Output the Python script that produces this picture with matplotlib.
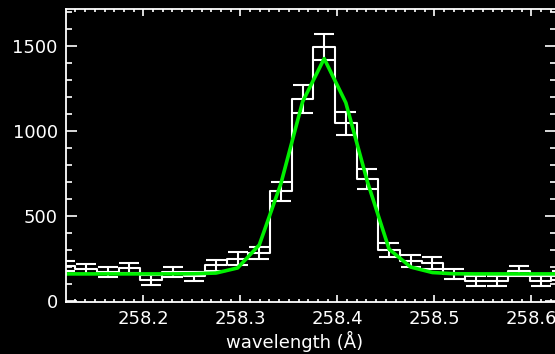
import matplotlib.pyplot as plt
from matplotlib.ticker import MultipleLocator

# bin centres (Angstrom), observed counts, errors and fitted profile
wavelength = [258.1188, 258.1411, 258.1634, 258.1857, 258.2080, 258.2303,
              258.2526, 258.2749, 258.2972, 258.3195, 258.3418, 258.3641,
              258.3864, 258.4087, 258.4310, 258.4533, 258.4756, 258.4979,
              258.5202, 258.5425, 258.5648, 258.5871, 258.6094, 258.6317]
counts = [205, 190, 170, 195, 125, 172, 145, 210, 250, 280, 645, 1185,
          1493, 1045, 717, 300, 235, 225, 160, 118, 120, 175, 120, 150]
errors = [28, 28, 28, 30, 30, 30, 27, 32, 36, 35, 57, 83,
          76, 68, 58, 39, 36, 34, 28, 30, 30, 30, 30, 28]
fit = [160, 160, 160, 160, 160, 160, 161, 165, 195, 330, 690, 1170,
       1424, 1165, 700, 305, 200, 168, 161, 160, 160, 160, 160, 160]

plt.rcParams['font.family'] = 'DejaVu Sans'

fig = plt.figure(figsize=(5.55, 3.54), dpi=100, facecolor='black')
ax = fig.add_axes([66 / 555, 52 / 354, 489.5 / 555, 293.5 / 354])
ax.set_facecolor('black')

ax.step(wavelength, counts, where='mid', color='white', lw=1.5)
ax.errorbar(wavelength, counts, yerr=errors, fmt='none', ecolor='white',
            elinewidth=1.5, capsize=7.2, capthick=1.5)
ax.plot(wavelength, fit, color='#00f000', lw=2.6)

ax.set_xlim(258.1203, 258.6248)
ax.set_ylim(-5, 1718)

ax.xaxis.set_major_locator(MultipleLocator(0.1))
ax.xaxis.set_minor_locator(MultipleLocator(0.01))
ax.yaxis.set_major_locator(MultipleLocator(500))
ax.yaxis.set_minor_locator(MultipleLocator(100))
ax.xaxis.set_major_formatter(plt.FuncFormatter(lambda v, p: f"{v:.1f}"))

ax.tick_params(which='both', direction='in', colors='white',
               top=True, right=True, labelsize=13, width=1.2)
ax.tick_params(axis='x', which='major', length=5, pad=6)
ax.tick_params(axis='x', which='minor', length=2.5)
ax.tick_params(axis='y', which='major', length=8, pad=6)
ax.tick_params(axis='y', which='minor', length=4.5)
for s in ax.spines.values():
    s.set_color('white')
    s.set_linewidth(1.3)

ax.set_xlabel('wavelength (Å)', color='white', fontsize=13)
ax.xaxis.set_label_coords(0.466, -0.099)

fig.savefig('out.png', dpi=100, facecolor='black')
